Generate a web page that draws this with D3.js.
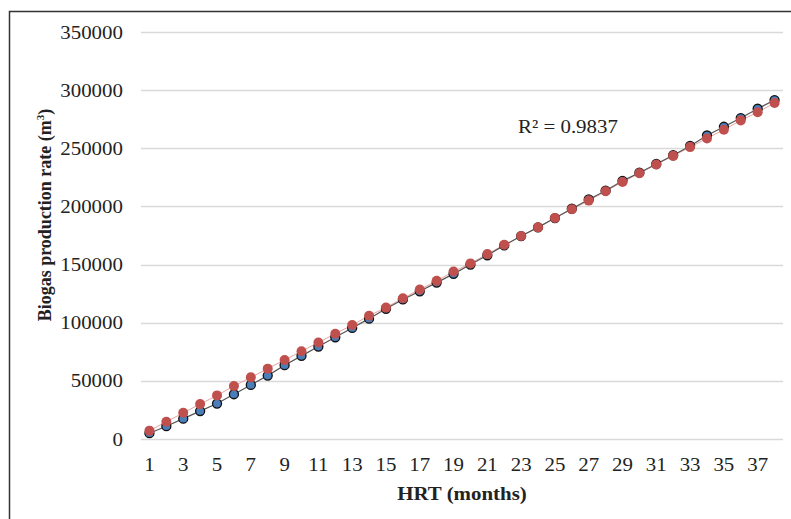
<!DOCTYPE html>
<html>
<head>
<meta charset="utf-8">
<script src="https://cdn.jsdelivr.net/npm/d3@7/dist/d3.min.js"></script>
<style>
  body { margin: 0; background: #fff; }
  svg { display: block; font-family: "Liberation Serif", "Times New Roman", serif; }
</style>
</head>
<body>
<svg id="chart" width="791" height="519"></svg>
<script>
const months = d3.range(1, 39);
const measured = [5000, 11000, 17500, 24000, 30500, 38500, 46500, 54500, 63500, 71500,
  79500, 87500, 95500, 103500, 112000, 120000, 127000, 134500, 142000, 150000,
  158000, 166500, 174500, 182000, 190000, 198000, 206000, 213500, 222000, 229000,
  236500, 244000, 252000, 261000, 268500, 276000, 284000, 291500];
const predicted = [7200, 14800, 22500, 30000, 37500, 45500, 53000, 60500, 68000, 75500,
  83000, 90500, 98000, 106000, 113000, 121000, 128500, 136000, 144000, 151000,
  159000, 167000, 174500, 182000, 190000, 197500, 205000, 213000, 221000, 228500,
  236000, 243500, 251000, 258500, 266000, 274000, 281000, 289000];
const yTicks = [0, 50000, 100000, 150000, 200000, 250000, 300000, 350000];
const r2Label = 'R² = 0.9837';

const svg = d3.select('#chart');
const plotLeft = 141, plotRight = 783, plotTop = 32, plotBottom = 439;
const stretch = 'scale(1.1,1)'; // source picture is a bit wider than tall

// outer frame
svg.append('path')
  .attr('d', 'M9.5,519 L9.5,11.5 L791,11.5')
  .attr('fill', 'none')
  .attr('stroke', '#333')
  .attr('stroke-width', 1.5);

const x = d3.scaleBand().domain(months).range([plotLeft, plotRight]);
const y = d3.scaleLinear().domain([0, 350000]).range([plotBottom, plotTop]);
const cx = d => x(d) + x.bandwidth() / 2;

// gridlines
svg.append('g')
  .selectAll('line')
  .data(yTicks)
  .join('line')
  .attr('x1', plotLeft).attr('x2', plotRight)
  .attr('y1', d => Math.round(y(d)) + 0.5).attr('y2', d => Math.round(y(d)) + 0.5)
  .attr('stroke', '#d9d9d9')
  .attr('stroke-width', 1.5);

const yAxis = svg.append('g')
  .attr('transform', `translate(${plotLeft},0)`)
  .call(d3.axisLeft(y).tickValues(yTicks).tickFormat(d3.format('d')).tickSize(0).tickPadding(16.4));
yAxis.select('.domain').remove();
yAxis.selectAll('text').attr('font-size', 19).attr('fill', '#222')
  .attr('font-family', '"Liberation Serif", serif')
  .attr('transform', stretch);

const xAxis = svg.append('g')
  .attr('transform', `translate(0,${plotBottom})`)
  .call(d3.axisBottom(x).tickValues(months.filter(m => m % 2 === 1)).tickSize(0).tickPadding(19));
xAxis.select('.domain').remove();
xAxis.selectAll('text').attr('font-size', 19).attr('fill', '#222')
  .attr('font-family', '"Liberation Serif", serif')
  .attr('transform', stretch);

// axis titles
svg.append('text')
  .attr('transform', `translate(462,500) ${stretch}`)
  .attr('text-anchor', 'middle')
  .attr('font-size', 19).attr('font-weight', 'bold').attr('fill', '#222')
  .text('HRT (months)');

const yt = svg.append('text')
  .attr('transform', 'translate(51,215) rotate(-90)')
  .attr('text-anchor', 'middle')
  .attr('font-size', 18).attr('font-weight', 'bold').attr('fill', '#222');
yt.append('tspan').text('Biogas production rate (m');
yt.append('tspan').attr('font-size', 11).attr('dy', -7).text('3');
yt.append('tspan').attr('dy', 7).text(')');

// lines
const line = d3.line().x((d, i) => cx(months[i])).y(d => y(d));
svg.append('path').datum(predicted)
  .attr('d', line).attr('fill', 'none')
  .attr('stroke', '#e8a3a1').attr('stroke-width', 1);
svg.append('path').datum(measured)
  .attr('d', line).attr('fill', 'none')
  .attr('stroke', '#555').attr('stroke-width', 1.2);

// markers
svg.append('g').selectAll('circle')
  .data(measured)
  .join('circle')
  .attr('cx', (d, i) => cx(months[i]))
  .attr('cy', d => y(d))
  .attr('r', 4.5)
  .attr('fill', '#4a7ebb')
  .attr('stroke', '#111')
  .attr('stroke-width', 1.3);

svg.append('g').selectAll('circle')
  .data(predicted)
  .join('circle')
  .attr('cx', (d, i) => cx(months[i]))
  .attr('cy', d => y(d))
  .attr('r', 5)
  .attr('fill', '#c0504d');

svg.append('text')
  .attr('transform', `translate(518,133) ${stretch}`)
  .attr('font-size', 19).attr('fill', '#222')
  .text(r2Label);
</script>
</body>
</html>
